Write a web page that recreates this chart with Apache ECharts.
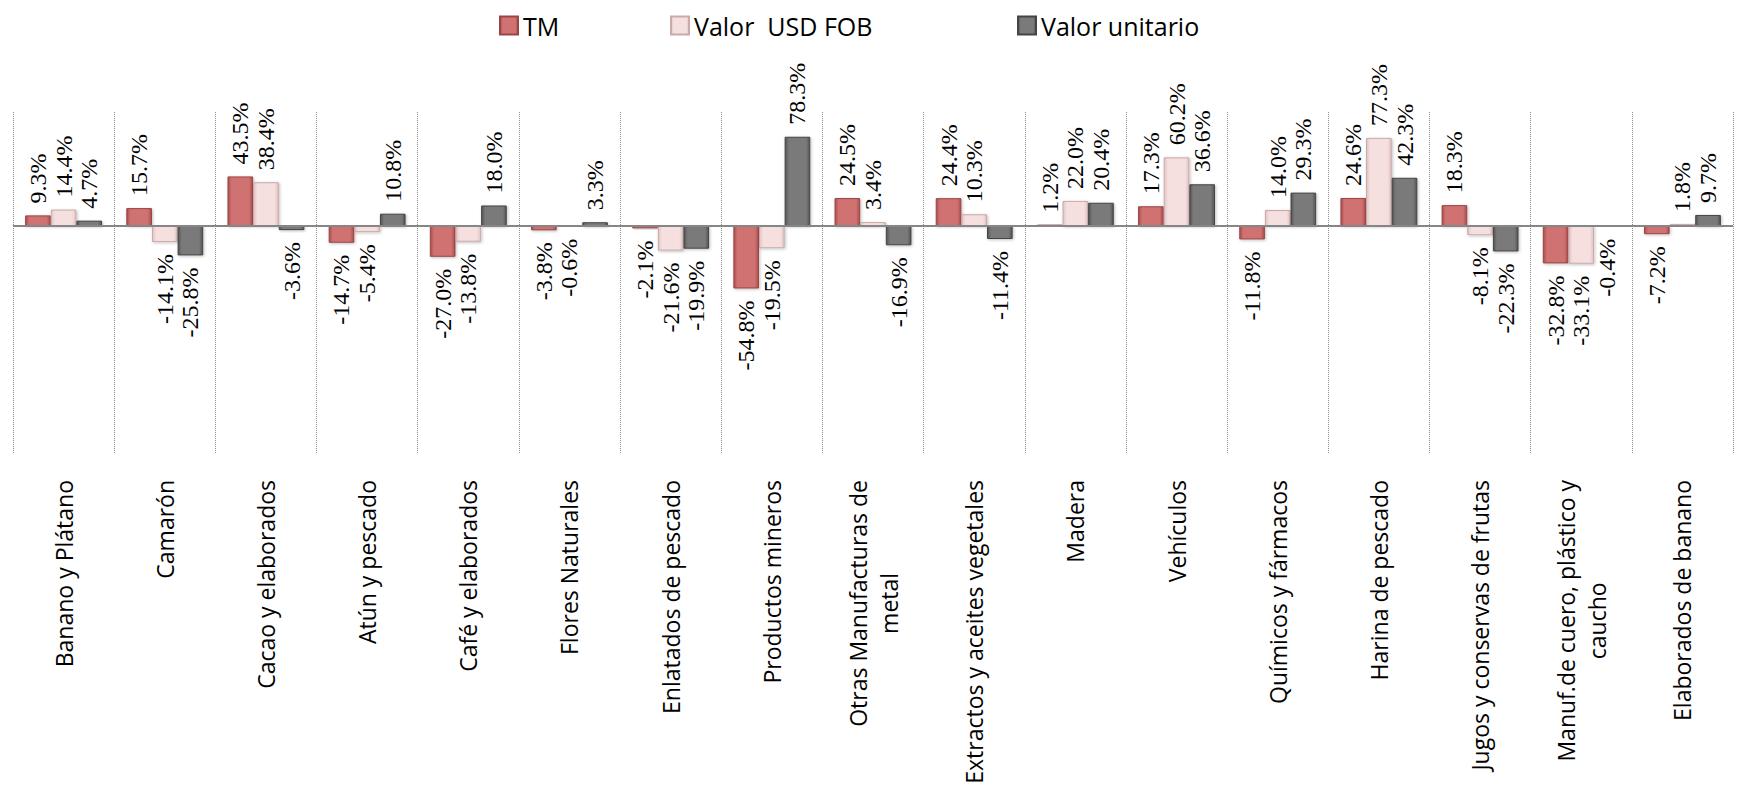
<!DOCTYPE html>
<html>
<head>
<meta charset="utf-8">
<title>Exportaciones no petroleras - variación</title>
<script src="https://cdn.jsdelivr.net/npm/echarts@6/dist/echarts.min.js"></script>
<style>
  html, body { margin: 0; padding: 0; background: #fff; }
  #chart { width: 1744px; height: 787px; }
</style>
</head>
<body>
<div id="chart"></div>
<script>
const categories = [
  'Banano y Plátano', 'Camarón', 'Cacao y elaborados', 'Atún y pescado',
  'Café y elaborados', 'Flores Naturales', 'Enlatados de pescado', 'Productos mineros',
  'Otras Manufacturas de\nmetal', 'Extractos y aceites vegetales', 'Madera', 'Vehículos',
  'Químicos y fármacos', 'Harina de pescado', 'Jugos y conservas de frutas',
  'Manuf.de cuero, plástico y\ncaucho', 'Elaborados de banano'
];
const tm = [9.3, 15.7, 43.5, -14.7, -27.0, -3.8, -2.1, -54.8, 24.5, 24.4, 1.2, 17.3, -11.8, 24.6, 18.3, -32.8, -7.2];
const valorFob = [14.4, -14.1, 38.4, -5.4, -13.8, -0.6, -21.6, -19.5, 3.4, 10.3, 22.0, 60.2, 14.0, 77.3, -8.1, -33.1, 1.8];
const valorUnitario = [4.7, -25.8, -3.6, 10.8, 18.0, 3.3, -19.9, 78.3, -16.9, -11.4, 20.4, 36.6, 29.3, 42.3, -22.3, -0.4, 9.7];

const serif = 'Liberation Serif';
const sans = 'Open Sans';

const chart = echarts.init(document.getElementById('chart'), null, { renderer: 'svg' });

// bevel look: darker edges, lighter centre
const bevel = (edge, mid) => ({
  type: 'linear', x: 0, y: 0, x2: 1, y2: 0,
  colorStops: [
    { offset: 0, color: edge },
    { offset: 0.15, color: mid },
    { offset: 0.85, color: mid },
    { offset: 1, color: edge }
  ]
});

// value labels, rotated, outside the end of each bar
const labelFor = (v) => ({
  show: true,
  position: v >= 0 ? 'top' : 'bottom',
  distance: 12,
  rotate: 90,
  align: v >= 0 ? 'left' : 'right',
  verticalAlign: 'middle',
  fontFamily: serif,
  fontSize: 24,
  color: '#000',
  formatter: (p) => p.value.toFixed(1) + '%'
});

const makeSeries = (name, values, edge, mid, border) => ({
  name,
  type: 'bar',
  barGap: 0,
  barCategoryGap: '24%',
  label: { show: true, fontFamily: serif, fontSize: 24 },
  data: values.map((v) => ({ value: v, label: labelFor(v) })),
  itemStyle: {
    color: bevel(edge, mid),
    borderColor: border,
    borderWidth: 1,
    shadowColor: 'rgba(0,0,0,0.25)',
    shadowBlur: 3,
    shadowOffsetX: 1,
    shadowOffsetY: 1
  }
});

const legendBase = (name, left) => ({
  data: [name],
  left,
  top: 8,
  itemWidth: 18,
  itemHeight: 18,
  icon: 'rect',
  itemGap: 8,
  textStyle: { fontFamily: sans, fontSize: 25, color: '#000' }
});

const option = {
  animation: false,
  backgroundColor: '#fff',
  legend: [
    legendBase('TM', 494),
    legendBase('Valor  USD FOB', 665),
    legendBase('Valor unitario', 1012)
  ],
  grid: { left: 13, right: 11, top: 112, bottom: 333, containLabel: false },
  xAxis: {
    type: 'category',
    data: categories,
    axisTick: { show: false },
    axisLine: { show: false, onZero: false },
    splitLine: {
      show: true,
      interval: 0,
      lineStyle: { type: 'dotted', color: '#8c8c8c', width: 1 }
    },
    axisLabel: {
      interval: 0,
      rotate: 90,
      margin: 26,
      color: '#000',
      fontFamily: sans,
      fontSize: 23,
      lineHeight: 31,
      formatter: (v) => v.split('\n').map((s) => '{c|' + s + '}').join('\n'),
      rich: {
        c: { align: 'center', fontFamily: sans, fontSize: 23, lineHeight: 31, color: '#000' }
      }
    }
  },
  yAxis: {
    type: 'value',
    min: -200,
    max: 100,
    interval: 50,
    show: false,
    splitLine: { show: false }
  },
  series: [
    makeSeries('TM', tm, '#a94e4e', '#d07272', '#9a4444'),
    makeSeries('Valor  USD FOB', valorFob, '#e3c3c3', '#f5dfdf', '#c9a9a9'),
    makeSeries('Valor unitario', valorUnitario, '#555555', '#7a7a7a', '#444444'),
    {
      // zero line across the plot
      type: 'line',
      silent: true,
      data: [],
      z: 1,
      markLine: {
        symbol: 'none',
        silent: true,
        label: { show: false },
        lineStyle: { color: '#868686', width: 2, type: 'solid' },
        data: [{ yAxis: 0 }]
      }
    }
  ]
};

chart.setOption(option);
</script>
</body>
</html>
